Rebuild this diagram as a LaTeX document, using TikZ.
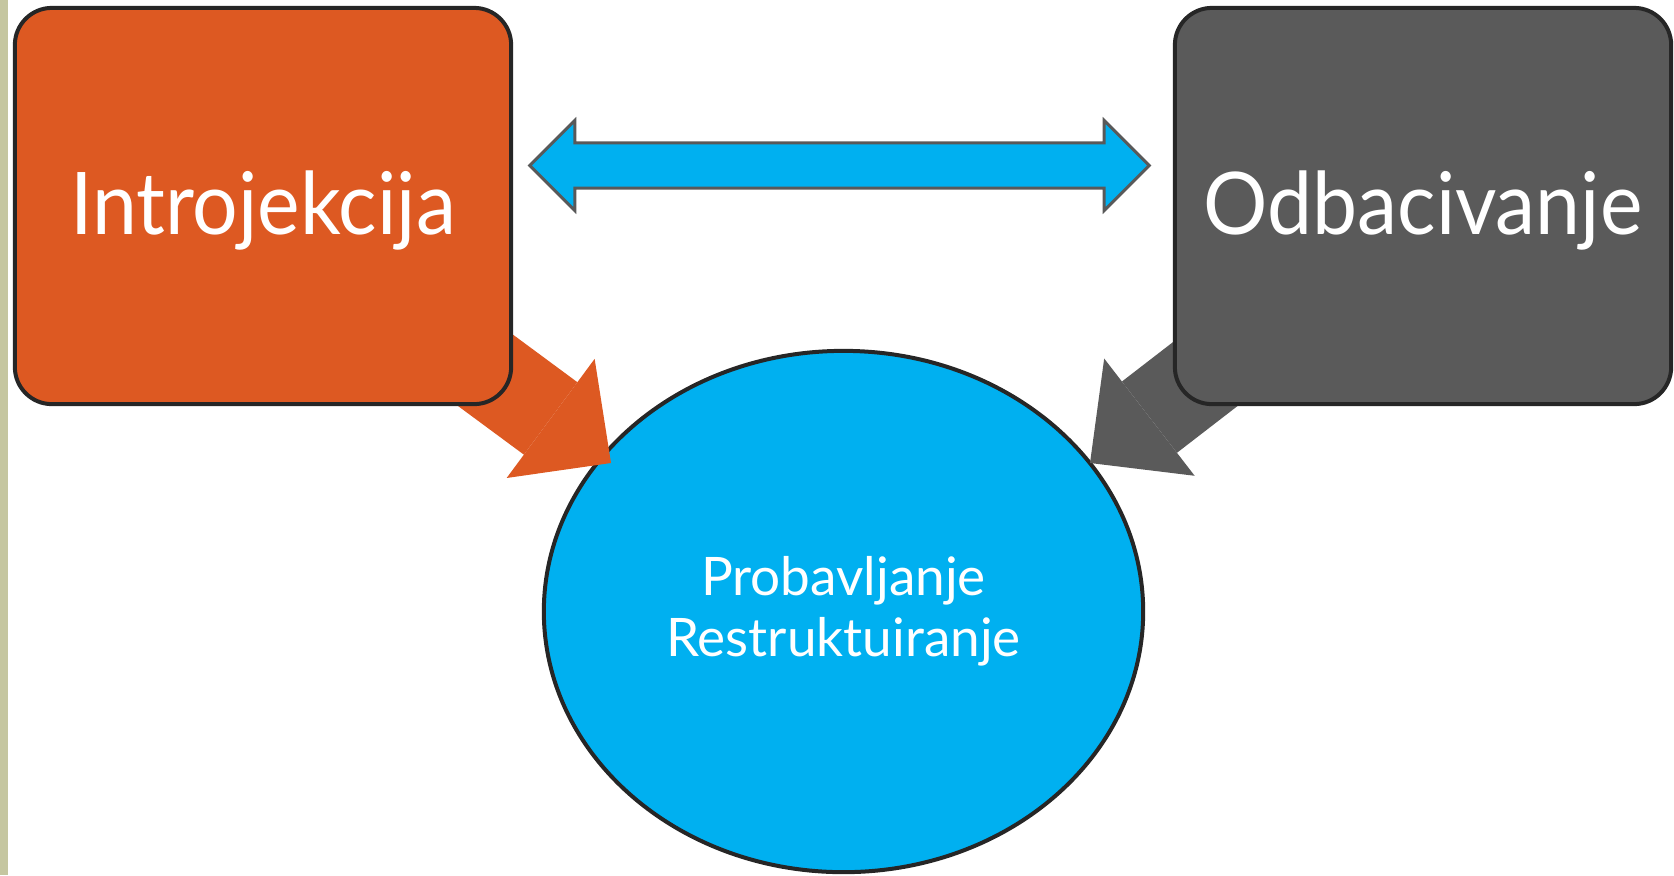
\documentclass[tikz,border=0pt]{standalone}
\usepackage{fontspec}
\setmainfont{Lato}
\newfontfamily\boxfont[FakeStretch=0.93]{Lato}
\usetikzlibrary{shapes.geometric, shapes.arrows, arrows.meta, positioning}

\definecolor{introorange}{RGB}{221,89,34}
\definecolor{odbgray}{RGB}{90,90,90}
\definecolor{probblue}{RGB}{0,176,240}
\definecolor{edgedark}{RGB}{38,38,38}
\definecolor{linkgray}{RGB}{89,89,89}
\definecolor{stripcol}{RGB}{197,198,160}

\tikzset{
	box/.style={draw=edgedark, line width=0.04cm, rounded corners=0.37cm,
		minimum width=4.96cm, minimum height=3.96cm, text=white,
		text height=20.5pt, text depth=4.5pt,
		font=\boxfont\fontsize{24.6}{30}\selectfont},
	blockarrow/.style={line width=0.9cm,
		-{Triangle[length=0.75cm, width=1.48cm, line width=0pt]}},
}

\begin{document}
\begin{tikzpicture}
	[x=0.01cm, y=-0.01cm]
   \useasboundingbox (0,0) rectangle (1674,875);
   \fill[stripcol] (0,0) rectangle (8,875);
   % circle in the middle
   \node[ellipse, draw=edgedark, line width=0.04cm, fill=probblue,
         minimum width=5.99cm, minimum height=5.21cm, text=white,
         align=center, font=\fontsize{15.1}{17.3}\selectfont]
         (prob) at (843.5,611.5) {Probavljanje\\Restruktuiranje};
   \coordinate (intro c) at (263,206);
   \coordinate (odb c)   at (1423,206);
   \coordinate (intro tip) at (611,463);
   \coordinate (odb tip)   at (1090,463);
   \draw[blockarrow, introorange] (intro c) -- (intro tip);
   \draw[blockarrow, odbgray] (odb c) -- (odb tip);
   \node[box, fill=introorange] (intro) at (intro c) {Introjekcija};
   \node[box, fill=odbgray]     (odb)   at (odb c)   {Odbacivanje};
   \node[double arrow, draw=linkgray, line width=0.03cm, fill=probblue,
         inner xsep=0pt, inner ysep=0.21cm, minimum height=6.19cm,
         minimum width=0.87cm, double arrow head extend=0.225cm,
         double arrow tip angle=90]
         (link) at (839.5,165.5) {};
\end{tikzpicture}
\end{document}
